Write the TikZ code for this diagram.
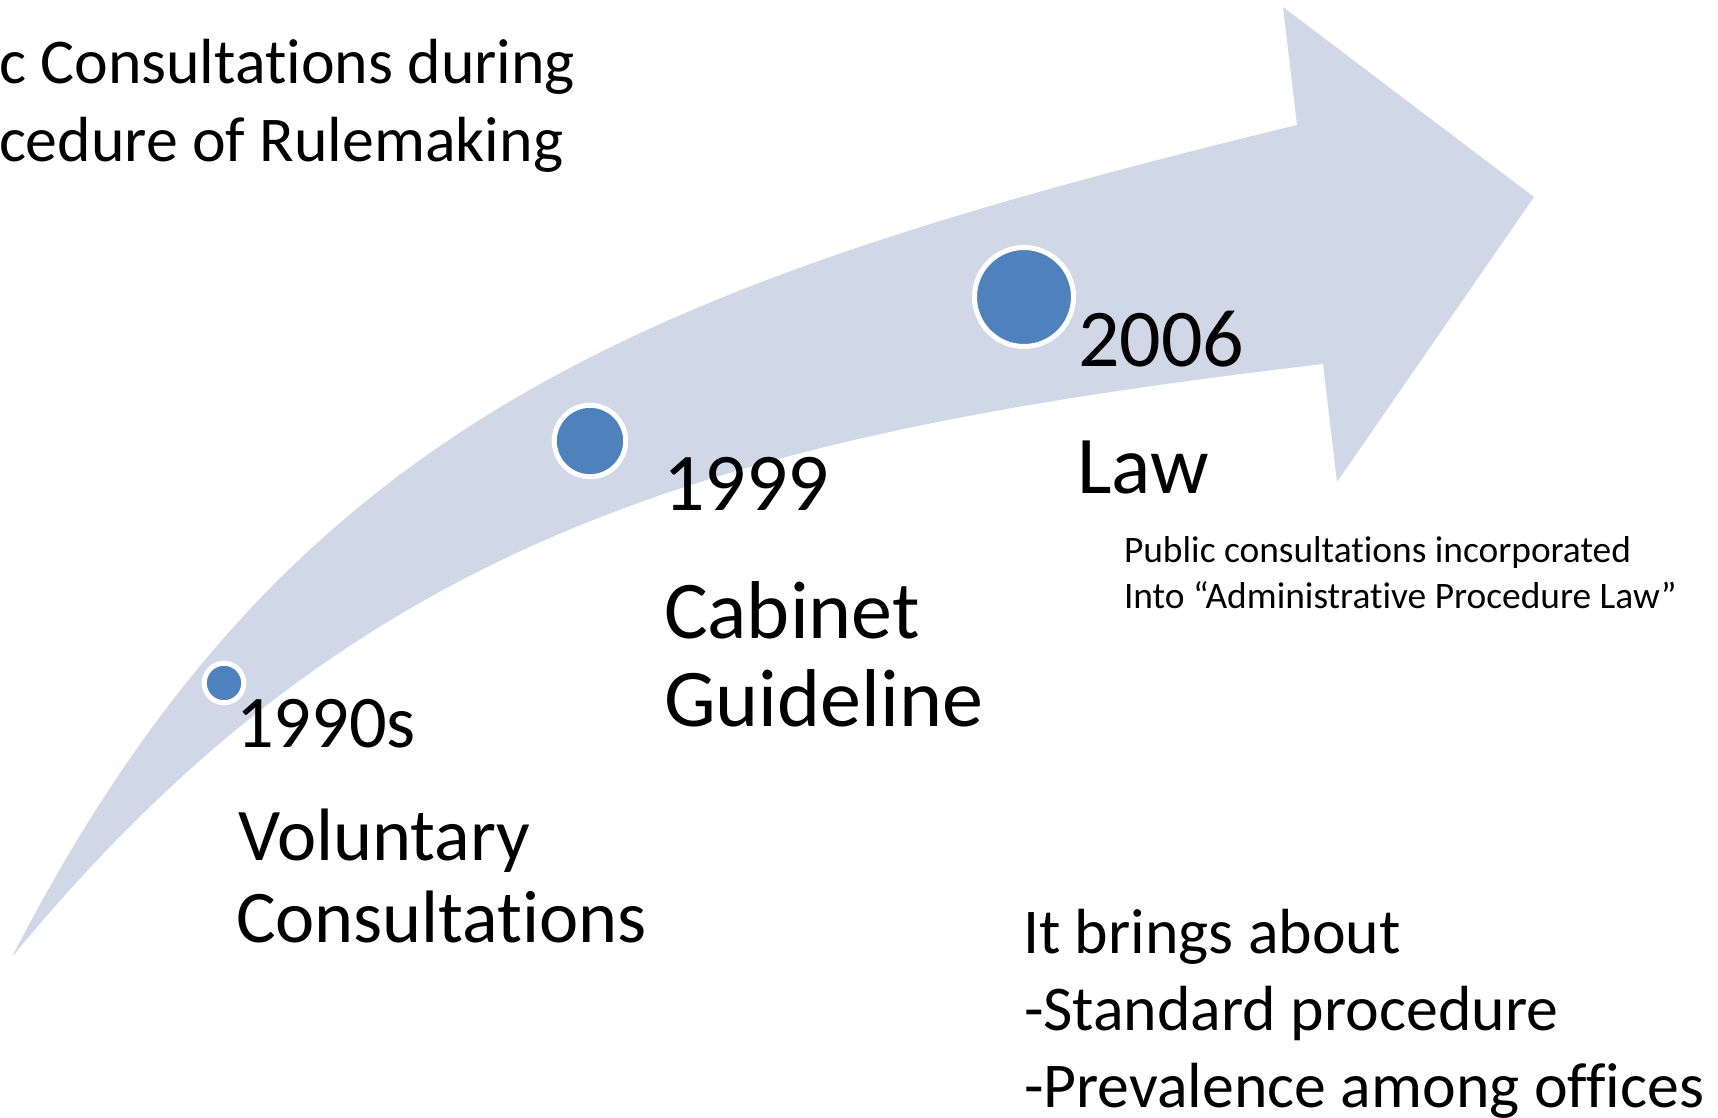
\documentclass[tikz,border=0pt]{standalone}
\usepackage{fontspec}
\setmainfont[RawFeature=-liga]{Carlito}
\definecolor{bandfill}{RGB}{208,216,232}
\definecolor{dotfill}{RGB}{79,129,189}
\tikzset{
  dot/.style={circle, fill=dotfill, draw=white, line width=5pt, inner sep=0pt},
  txt/.style={anchor=base west, inner sep=0pt, outer sep=0pt, text=black},
  titlefont/.style={font=\fontsize{63.8}{76}\selectfont},
  smallgrp/.style={font=\fontsize{74.3}{88}\selectfont},
  biggrp/.style={font=\fontsize{82}{97}\selectfont},
  notefont/.style={font=\fontsize{37.4}{44}\selectfont},
}
\begin{document}
\begin{tikzpicture}[x=1pt,y=-1pt]
\useasboundingbox (0,0) rectangle (1718,1118);
\clip (0,0) rectangle (1718,1118);
% curved arrow
\fill[bandfill] (12,957) .. controls (286,424) and (637,286) .. (1297,125)
  -- (1283,7) -- (1534,197) -- (1337,482) -- (1323,364)
  .. controls (727,434) and (361,532) .. (12,957) -- cycle;
% milestone dots
\node[dot, minimum size=39.5pt] (d1) at (224,683) {};
\node[dot, minimum size=71.4pt] (d2) at (590,441) {};
\node[dot, minimum size=99pt] (d3) at (1024,297) {};
% title (cut at the left edge)
\node[txt, titlefont] (t1) at (-1,84) {c Consultations during};
\node[txt, titlefont] (t2) at (-1,162) {cedure of Rulemaking};
% 1990s
\node[txt, smallgrp] (y1) at (236,747) {1990s};
\node[txt, smallgrp] (v1) at (238,860) {Voluntary};
\node[txt, smallgrp] (v2) at (236,942) {Consultations};
% 1999
\node[txt, biggrp] (y2) at (663,510) {1999};
\node[txt, biggrp] (c1) at (664,638) {Cabinet};
\node[txt, biggrp] (c2) at (664,726) {Guideline};
% 2006
\node[txt, biggrp] (y3) at (1078,366) {2006};
\node[txt, biggrp] (l1) at (1077,493) {Law};
\node[txt, notefont] (n1) at (1124,562) {Public consultations incorporated};
\node[txt, notefont] (n2) at (1124,608) {Into “Administrative Procedure Law”};
% bottom right
\node[txt, titlefont] (b1) at (1023,953) {It brings about};
\node[txt, titlefont] (b2) at (1024,1030) {-Standard procedure};
\node[txt, titlefont] (b3) at (1024,1107) {-Prevalence among offices};
\end{tikzpicture}
\end{document}
